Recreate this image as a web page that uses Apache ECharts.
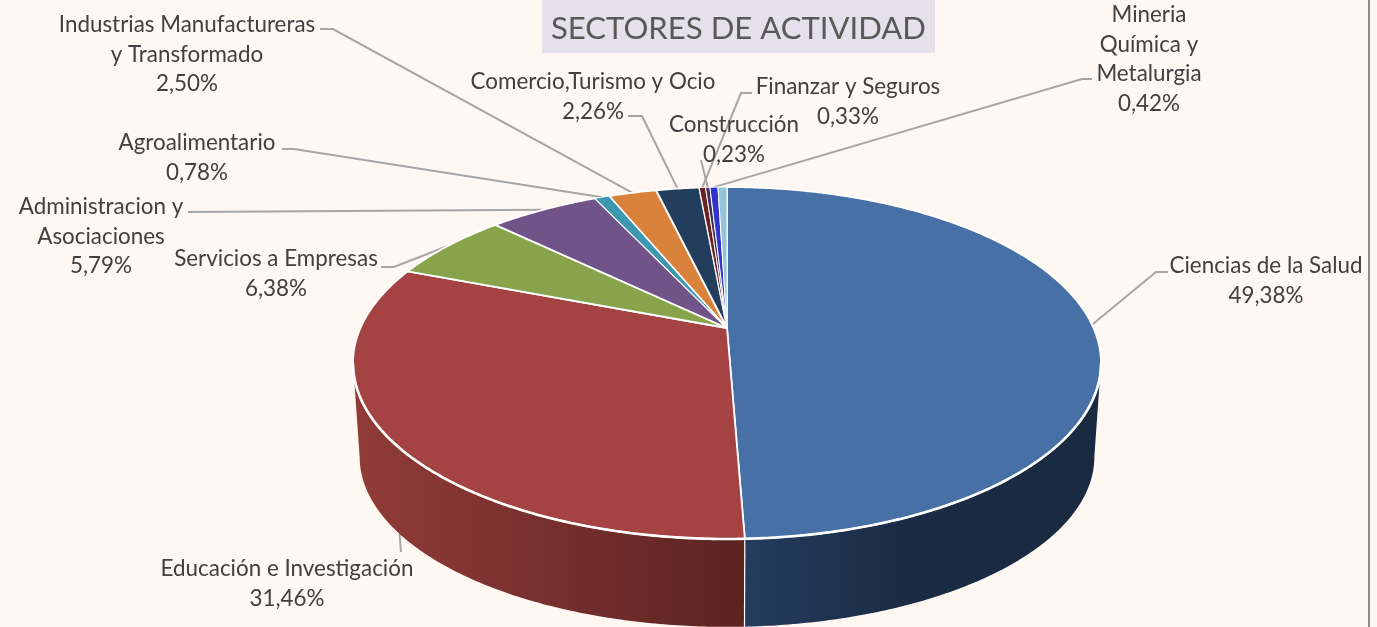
<!DOCTYPE html>
<html>
<head>
<meta charset="utf-8">
<style>
html, body { margin: 0; padding: 0; background: #fef7f2; }
#main { width: 1377px; height: 627px; }
</style>
<script src="https://cdn.jsdelivr.net/npm/echarts@6/dist/echarts.min.js"></script>
</head>
<body>
<div id="main"></div>
<script>
// clockwise from 12 o'clock; last slice has no label in the original
var sectors = ['Ciencias de la Salud', 'Educación e Investigación', 'Servicios a Empresas',
    'Administracion y Asociaciones', 'Agroalimentario', 'Industrias Manufactureras y Transformado',
    'Comercio,Turismo y Ocio', 'Finanzar y Seguros', 'Construcción', 'Mineria Química y Metalurgia', 'Otros'];
var shares = [49.38, 31.46, 6.38, 5.79, 0.78, 2.50, 2.26, 0.33, 0.23, 0.42, 0.47];
var labelLines = [
    ['Ciencias de la Salud', '49,38%'],
    ['Educación e Investigación', '31,46%'],
    ['Servicios a Empresas', '6,38%'],
    ['Administracion y', 'Asociaciones', '5,79%'],
    ['Agroalimentario', '0,78%'],
    ['Industrias Manufactureras', 'y Transformado', '2,50%'],
    ['Comercio,Turismo y Ocio', '2,26%'],
    ['Finanzar y Seguros', '0,33%'],
    ['Construcción', '0,23%'],
    ['Mineria', 'Química y', 'Metalurgia', '0,42%'],
    []
];
var sliceColors = ['#4670a6', '#a54342', '#87a34c', '#6f5389', '#3d97ae', '#d9823b',
    '#233d5d', '#6b2120', '#3f2f5c', '#3333cc', '#93c4d8'];

// label placement: [centre x, middle of first line y] and leader elbow points
var labelAt = [
    [1266, 266], [287, 569], [276, 259], [101, 207], [197, 143], [187, 25],
    [593, 82], [848, 87], [734, 125], [1149, 15], null
];
var elbows = [
    [[1168, 272], [1156, 272]], [[401, 552]], [[381, 267], [394, 267]], [[188, 212]], [[282, 149], [294, 149]],
    [[320, 29], [333, 29]], [[628, 116], [642, 116]], [[752, 93], [741, 93]], [[701, 160]], [[1092, 79], [1082, 79]], null
];

// perspective projection of the disc: a unit circle seen from the front
var persp = 0.199;
var topDisc = { cx: 727, cy: 328, a: 366.5, b: 169 };
var baseDisc = { cx: 727, cy: 423, a: 360, b: 163.3 };

function project(disc, angle) {
    var u = Math.sin(angle), v = Math.cos(angle), w = 1 + persp * v;
    return [disc.cx + disc.a * u / w, disc.cy - disc.b * v / w];
}
function rim(disc, from, to) {
    var pts = [], n = Math.max(2, Math.ceil((to - from) / 0.01));
    for (var i = 0; i <= n; i++) pts.push(project(disc, from + (to - from) * i / n));
    return pts;
}

var total = shares.reduce(function (s, v) { return s + v; }, 0);
var running = 0;
var sliceData = shares.map(function (v, i) {
    var start = running;
    running += v;
    return { name: sectors[i], value: [start / total * 2 * Math.PI, running / total * 2 * Math.PI, i] };
});

var wallStart = Math.PI - Math.acos(persp);   // where the base ellipse is widest
var wallEnd = Math.PI + Math.acos(persp);

function wallGradient(x, x2, stops) {
    return { type: 'linear', x: x, y: 0, x2: x2, y2: 0, global: true, colorStops: stops };
}
var wallFills = [
    wallGradient(745, 1095, [{ offset: 0, color: '#243c5e' }, { offset: 0.45, color: '#1a2c44' }, { offset: 1, color: '#192a40' }]),
    wallGradient(361, 745, [{ offset: 0, color: '#903b38' }, { offset: 1, color: '#5c2321' }])
];

function renderWall(params, api) {
    var i = api.value(2);
    var from = Math.max(api.value(0), wallStart), to = Math.min(api.value(1), wallEnd);
    if (from >= to) return null;
    return {
        type: 'polygon',
        shape: { points: rim(topDisc, from, to).concat(rim(baseDisc, from, to).reverse()) },
        style: { fill: wallFills[i] || sliceColors[i] }
    };
}
function renderWallSeam(params, api) {
    var to = api.value(1);
    if (to <= wallStart || to >= wallEnd) return null;
    return {
        type: 'line',
        shape: {
            x1: project(topDisc, to)[0], y1: project(topDisc, to)[1],
            x2: project(baseDisc, to)[0], y2: project(baseDisc, to)[1]
        },
        style: { stroke: '#ffffff', lineWidth: 1.2 }
    };
}
function renderTop(params, api) {
    var i = api.value(2);
    var pts = rim(topDisc, api.value(0), api.value(1));
    pts.unshift([topDisc.cx, topDisc.cy]);
    return {
        type: 'polygon',
        shape: { points: pts },
        // thin slices would vanish under the full white edge
        style: { fill: sliceColors[i], stroke: '#ffffff', lineWidth: shares[i] < 1 ? 1 : 1.8, lineJoin: 'round' }
    };
}
// the front edge of the disc has a heavier white rim
function renderFrontRim(params, api) {
    var from = Math.max(api.value(0), wallStart), to = Math.min(api.value(1), wallEnd);
    if (from >= to) return null;
    return {
        type: 'polyline',
        shape: { points: rim(topDisc, from, to) },
        style: { stroke: '#ffffff', lineWidth: 2.6, fill: null }
    };
}
function renderLeader(params, api) {
    var i = api.value(2);
    if (!elbows[i]) return null;
    var mid = (api.value(0) + api.value(1)) / 2;
    var anchor = i === 1 ? project(baseDisc, mid - 0.02) : project(topDisc, mid);
    return {
        type: 'polyline',
        shape: { points: elbows[i].concat([anchor]) },
        style: { stroke: '#a6a6a6', lineWidth: 2, fill: null }
    };
}
function renderLabel(params, api) {
    var i = api.value(2);
    if (!labelAt[i]) return null;
    return {
        type: 'group',
        children: labelLines[i].map(function (line, k) {
            return {
                type: 'text',
                style: {
                    x: labelAt[i][0], y: labelAt[i][1] + k * 29.5,
                    text: line, align: 'center', verticalAlign: 'middle',
                    font: '22.4px Lato', fill: '#404040'
                }
            };
        })
    };
}

function layer(fn, z) {
    return {
        type: 'custom', coordinateSystem: 'none', renderItem: fn, data: sliceData,
        z: z, silent: true, animation: false, clip: false
    };
}

var chart = echarts.init(document.getElementById('main'), null, { renderer: 'canvas' });
chart.setOption({
    animation: false,
    backgroundColor: '#fef7f2',
    title: {
        text: 'SECTORES DE ACTIVIDAD',
        left: 542, top: 0,
        padding: [11, 9, 6, 9],
        backgroundColor: '#e4e0ec',
        textStyle: { color: '#595959', fontFamily: 'Lato', fontSize: 31.1, fontWeight: 'normal', lineHeight: 36 }
    },
    tooltip: { show: false },
    graphic: [{
        type: 'line', silent: true,
        shape: { x1: 1369, y1: 0, x2: 1369, y2: 627 },
        style: { stroke: '#8c8c8c', lineWidth: 2 }
    }],
    series: [
        layer(renderLeader, 1),
        layer(renderWall, 2),
        layer(renderWallSeam, 3),
        layer(renderTop, 4),
        layer(renderFrontRim, 5),
        layer(renderLabel, 6)
    ]
});
</script>
</body>
</html>
